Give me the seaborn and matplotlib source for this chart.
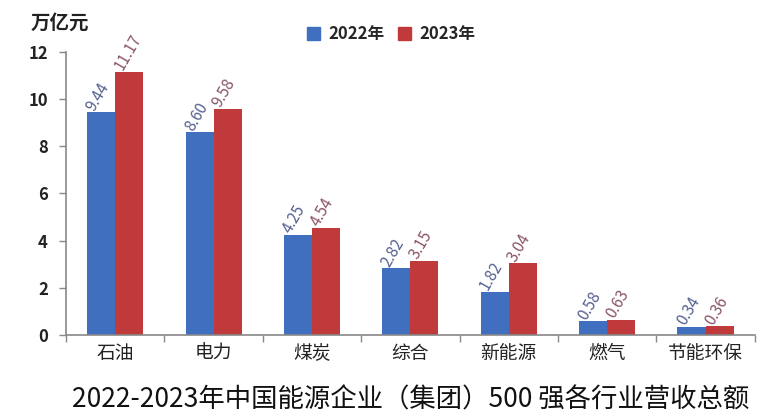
import matplotlib
matplotlib.use("Agg")
import matplotlib.pyplot as plt
import seaborn as sns
import pandas as pd
from matplotlib.patches import Patch

industries = ["石油", "电力", "煤炭", "综合", "新能源", "燃气", "节能环保"]
revenue_2022 = [9.44, 8.60, 4.25, 2.82, 1.82, 0.58, 0.34]
revenue_2023 = [11.17, 9.58, 4.54, 3.15, 3.04, 0.63, 0.36]
years = ["2022年", "2023年"]
y_ticks = [0, 2, 4, 6, 8, 10, 12]

df = pd.DataFrame({
    "行业": industries * 2,
    "年份": [years[0]] * len(industries) + [years[1]] * len(industries),
    "营收": revenue_2022 + revenue_2023,
})

sns.set_theme(style="white")
plt.rcParams["font.family"] = ["Noto Sans CJK SC", "DejaVu Sans"]

fig = plt.figure(figsize=(7.67, 4.16), dpi=100)
ax = fig.add_axes([0.086, 0.195, 0.898, 0.68])

palette = {years[0]: "#3f6fbe", years[1]: "#c03a3c"}
sns.barplot(data=df, x="行业", y="营收", hue="年份", palette=palette,
            width=0.57, saturation=1, linewidth=0, ax=ax, legend=False)

label_colors = ["#55608f", "#8a5566"]
for container, color in zip(ax.containers, label_colors):
    for bar in container:
        h = bar.get_height()
        x = bar.get_x() + bar.get_width() * 0.12
        ax.text(x, h + 0.12, f"{h:.2f}", rotation=60, rotation_mode="anchor",
                ha="left", va="center", fontsize=11, color=color,
                clip_on=False)

ax.set_ylim(0, 12)
ax.set_xlim(-0.5, len(industries) - 0.5)
ax.set_yticks(y_ticks)
ax.set_yticklabels([str(t) for t in y_ticks], fontsize=12, fontweight="bold",
                   color="#222222")
ax.set_xlabel("")
ax.set_ylabel("")
ax.tick_params(axis="x", length=0, pad=6, labelsize=13.5, labelcolor="#222222")
ax.tick_params(axis="y", left=True, length=5, width=1, color="#888888",
               pad=8)

# category separators on the x axis
ax.set_xticks([i - 0.5 for i in range(len(industries) + 1)], minor=True)
ax.tick_params(axis="x", which="minor", bottom=True, length=5, width=1,
               color="#888888")

for side in ["top", "right"]:
    ax.spines[side].set_visible(False)
for side in ["left", "bottom"]:
    ax.spines[side].set_color("#888888")
    ax.spines[side].set_linewidth(1.2)

fig.text(0.040, 0.945, "万亿元", fontsize=14, fontweight="bold",
         color="#222222", va="center")

# legend
handles = [Patch(color=palette[y]) for y in years]
fig.legend(handles, years, loc="center", bbox_to_anchor=(0.51, 0.918),
           ncol=2, frameon=False, fontsize=12,
           prop={"weight": "bold", "size": 12},
           handlelength=0.8, handleheight=0.8, columnspacing=0.8,
           handletextpad=0.5)

fig.text(0.536, 0.038,
         "2022-2023年中国能源企业（集团）500 强各行业营收总额",
         fontsize=19, ha="center", va="center", color="#111111")

fig.savefig("out.png", dpi=100)
